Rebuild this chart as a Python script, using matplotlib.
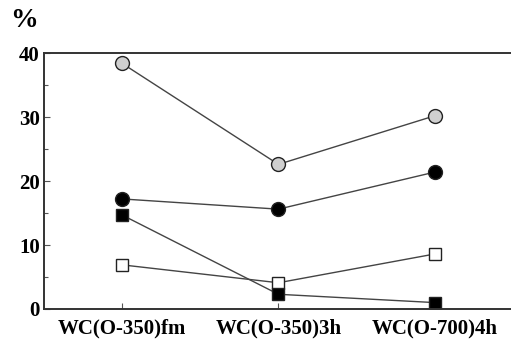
import matplotlib.pyplot as plt
import numpy as np

categories = ['WC(O-350)fm', 'WC(O-350)3h', 'WC(O-700)4h']
gray_circle = [38.4, 22.6, 30.2]
black_circle = [17.2, 15.6, 21.4]
open_square = [6.9, 4.1, 8.6]
black_square = [14.7, 2.3, 1.0]

plt.rcParams['font.family'] = 'Liberation Serif'
plt.rcParams['font.weight'] = 'bold'

fig = plt.figure(figsize=(5.11, 3.42), dpi=100)
ax = fig.add_axes([0.086, 0.0965, 0.914, 0.7485])
x = np.arange(len(categories))

line_kw = dict(color='#444444', lw=1.0, markeredgecolor='#222222', markeredgewidth=1.0)
ax.plot(x, gray_circle, marker='o', ms=10, markerfacecolor='#cfcfcf', **line_kw)
ax.plot(x, black_circle, marker='o', ms=10, markerfacecolor='black', **line_kw)
ax.plot(x, open_square, marker='s', ms=9, markerfacecolor='white', **line_kw)
ax.plot(x, black_square, marker='s', ms=9, markerfacecolor='black', **line_kw)

ax.set_xlim(-0.498, 2.486)
ax.set_ylim(0, 40)
ax.set_yticks([0, 10, 20, 30, 40])
ax.set_yticks([5, 15, 25, 35], minor=True)
ax.set_xticks(x)
ax.set_xticklabels(categories)
ax.tick_params(axis='both', which='both', direction='in', labelsize=15, width=0.8, color='#555555')
ax.tick_params(axis='y', which='major', length=4, pad=3)
ax.tick_params(axis='y', which='minor', length=3)
ax.tick_params(axis='x', length=4, pad=7)
ax.spines['right'].set_visible(False)
for s in ['left', 'top', 'bottom']:
    ax.spines[s].set_color('#333333')
    ax.spines[s].set_linewidth(1.4)

fig.text(0.047, 0.94, '%', fontsize=20, fontweight='bold', ha='center', va='center')

fig.savefig('out.png', dpi=100)
